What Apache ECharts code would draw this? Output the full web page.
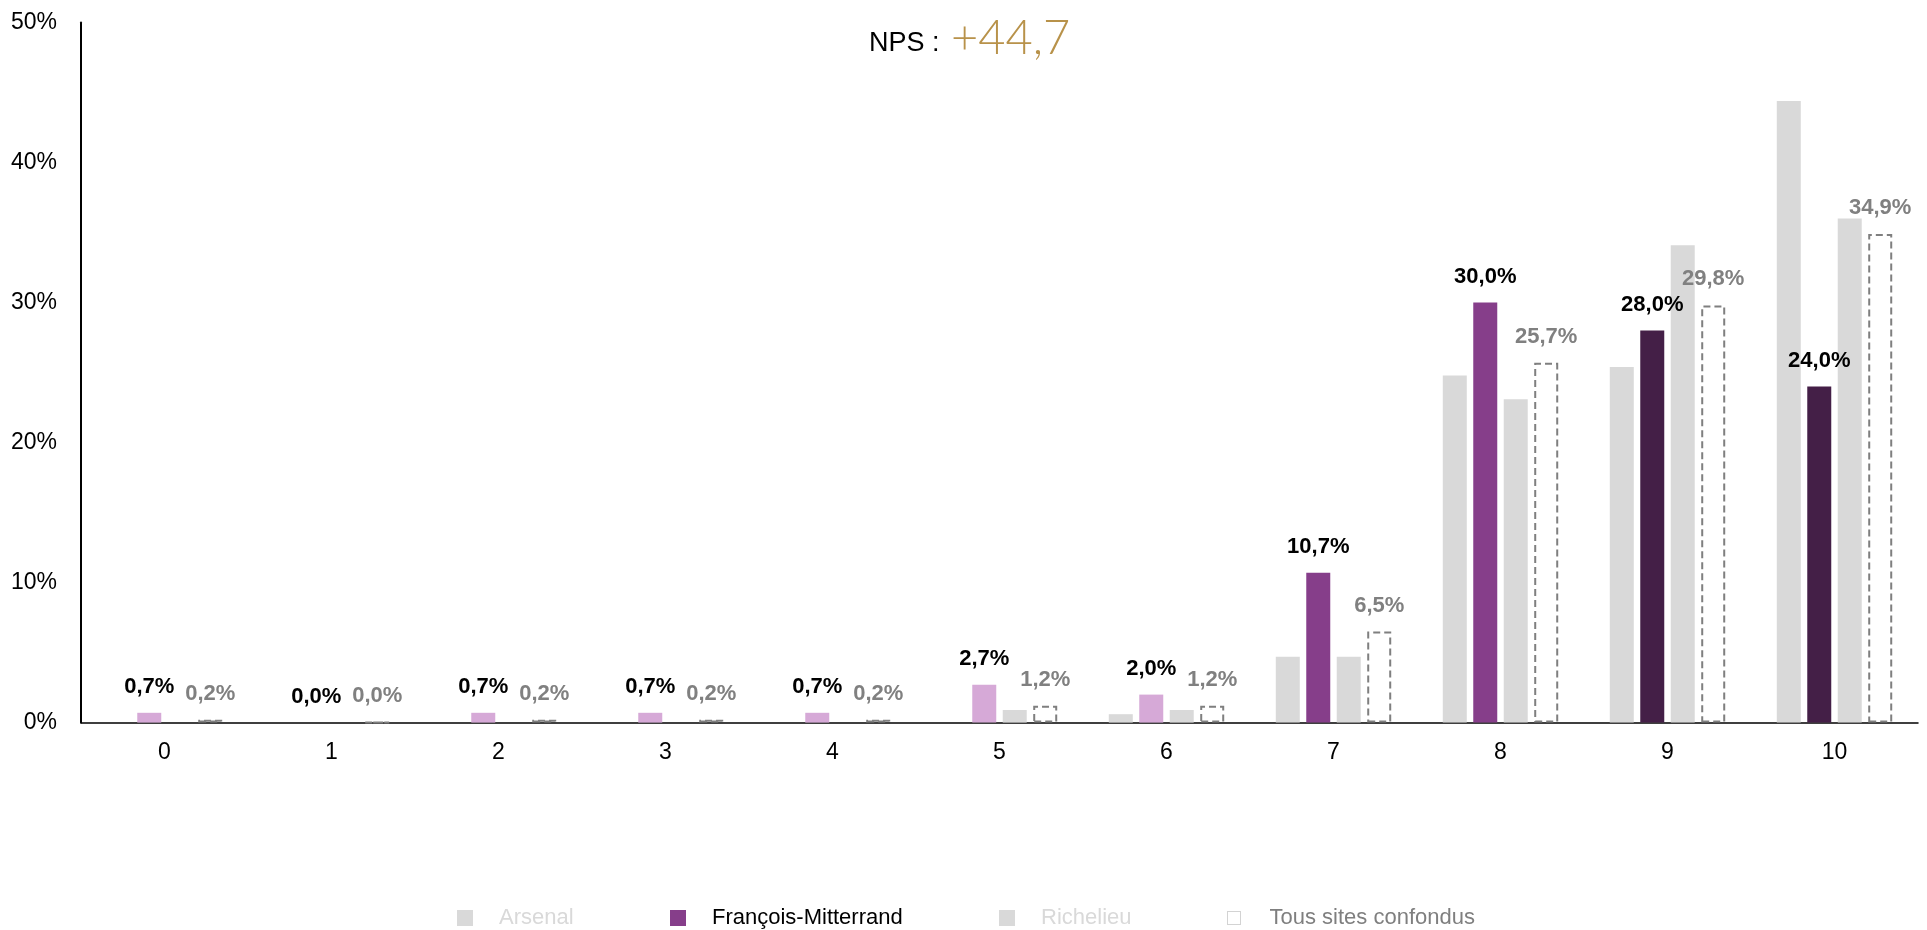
<!DOCTYPE html>
<html>
<head>
<meta charset="utf-8">
<script src="https://cdn.jsdelivr.net/npm/echarts@6/dist/echarts.min.js"></script>
<style>
html,body{margin:0;padding:0;background:#fff;}
#chart{width:1927px;height:930px;}
</style>
</head>
<body>
<div id="chart"></div>
<script>
const categories = ['0','1','2','3','4','5','6','7','8','9','10'];
const arsenal = [0,0,0,0,0,0,0.6,4.7,24.8,25.4,44.4];
const mitterrand = [0.7,0.0,0.7,0.7,0.7,2.7,2.0,10.7,30.0,28.0,24.0];
const richelieu = [0,0,0,0,0,0.9,0.9,4.7,23.1,34.1,36.0];
const tousSites = [0.2,0.0,0.2,0.2,0.2,1.2,1.2,6.5,25.7,29.8,34.9];
const yTicks = [0,10,20,30,40,50];
const npsValue = '+44,7';
const seriesNames = ['Arsenal','François-Mitterrand','Richelieu','Tous sites confondus'];

const REG = "'Liberation Sans',Arial,sans-serif";
const GRAY = '#d9d9d9';
const detractor = '#d6a9d7', passive = '#863e8a', promoter = '#441f47';
function fmColor(i){ return i <= 6 ? detractor : (i <= 8 ? passive : promoter); }
function fmt(v){ return v.toFixed(1).replace('.', ',') + '%'; }

const chart = echarts.init(document.getElementById('chart'), null, {renderer:'canvas'});
const barW = 24, gap = '27%';
const legendBase = {
  orient:'horizontal', top: 902, itemWidth:16, itemHeight:16, icon:'rect',
  selectedMode:false,
  textStyle:{fontFamily:REG, fontSize:22, padding:[0,0,0,21]}
};
chart.setOption({
  animation:false,
  backgroundColor:'#fff',
  grid:{left:81, right:9, top:22.6, bottom:207.4, containLabel:false},
  graphic:[
    {type:'text', x:869, y:44, style:{text:'NPS :', font:"27px "+REG, fill:'#000', textVerticalAlign:'middle', textAlign:'left'}},
    {type:'text', x:951, y:39, style:{text:npsValue, font:"300 47px Lato,'Open Sans',sans-serif", fill:'#b8924a', textVerticalAlign:'middle', textAlign:'left'}}
  ],
  legend:[
    Object.assign({}, legendBase, {left:452, data:[{name:seriesNames[0], textStyle:{color:'#d9d9d9'}}]}),
    Object.assign({}, legendBase, {left:665, data:[{name:seriesNames[1], textStyle:{color:'#000'}}]}),
    Object.assign({}, legendBase, {left:994, data:[{name:seriesNames[2], textStyle:{color:'#d9d9d9'}}]}),
    Object.assign({}, legendBase, {left:1222, itemWidth:13, itemHeight:13, data:[{name:seriesNames[3], textStyle:{color:'#7f7f7f', padding:[0,0,0,24]}, itemStyle:{color:'rgba(0,0,0,0)', borderColor:'#a6a6a6', borderWidth:1, borderType:'dotted'}}]})
  ],
  xAxis:{
    type:'category', data:categories,
    axisLine:{show:true, lineStyle:{color:'#000', width:1.5}},
    axisTick:{show:false},
    axisLabel:{color:'#000', fontFamily:REG, fontSize:23, margin:19}
  },
  yAxis:{
    type:'value', min:0, max:50, interval:10,
    axisLine:{show:true, lineStyle:{color:'#000', width:2}},
    axisTick:{show:false},
    splitLine:{show:false},
    axisLabel:{color:'#000', fontFamily:REG, fontSize:23, margin:24, formatter: v => yTicks.includes(v) ? v + '%' : ''}
  },
  series:[
    {name:seriesNames[0], type:'bar', barWidth:barW, barGap:gap, data:arsenal, itemStyle:{color:GRAY}, silent:true},
    {name:seriesNames[1], type:'bar', barWidth:barW, barGap:gap, itemStyle:{color:passive}, silent:true,
      data: mitterrand.map((v,i)=>({value:v, itemStyle:{color:fmColor(i)}})),
      label:{show:true, position:'top', distance:15, color:'#000', fontFamily:REG, fontWeight:'bold', fontSize:22, formatter:p=>fmt(p.value)}},
    {name:seriesNames[2], type:'bar', barWidth:barW, barGap:gap, data:richelieu, itemStyle:{color:GRAY}, silent:true},
    {name:seriesNames[3], type:'bar', barWidth:barW, barGap:gap, data:tousSites, silent:true,
      itemStyle:{color:'rgba(0,0,0,0)', borderColor:'#7f7f7f', borderWidth:2, borderType:[7,4]},
      label:{show:true, position:'top', distance:15, color:'#808080', fontFamily:REG, fontWeight:'bold', fontSize:22, formatter:p=>fmt(p.value)}}
  ]
});
</script>
</body>
</html>
